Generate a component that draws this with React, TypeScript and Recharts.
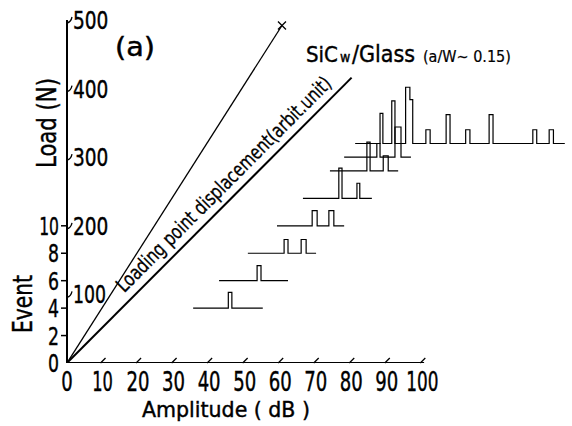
import { LineChart, Line, XAxis, YAxis } from "recharts";

const FONT = '"DejaVu Sans Condensed", "DejaVu Sans", sans-serif';

// axes: amplitude in dB, events on the left, load on the same scale (500 N ~ 25 events)
const ampTicks = [0, 10, 20, 30, 40, 50, 60, 70, 80, 90, 100];
const eventTicks = [0, 2, 4, 6, 8, 10];
const loadTicks = [100, 200, 300, 400, 500];
const loadPerEvent = 20;

// load vs. displacement lines, drawn in plot units (dB, event)
const loadLine = [
  { x: 0, y: 0 },
  { x: 60.5, y: 24.6 },
];
const displacementLine = [
  { x: 0, y: 0 },
  { x: 80.1, y: 20.8 },
];
const ampAxisLine = [
  { x: 0, y: 0 },
  { x: 100.5, y: 0 },
];

// event traces: baseline, start, end, pulses [from, to, top, (shoulder to, shoulder top)]
const traceBase = [4, 6, 8, 10, 12, 14, 15, 16];
const traceStart = [35.5, 42.8, 50.9, 59.1, 66.4, 74.0, 78.0, 81.1];
const traceEnd = [55.1, 62.2, 70.1, 78.0, 85.8, 93.2, 96.8, 140.1];
const tracePulses: number[][][] = [
  [[45.4, 46.4, 5.15]],
  [[53.5, 54.6, 7.1]],
  [
    [61.1, 62.2, 9.0],
    [65.9, 67.3, 9.0],
  ],
  [
    [69.0, 70.4, 11.1],
    [73.7, 75.1, 11.1],
  ],
  [
    [76.5, 77.4, 14.2],
    [81.6, 82.4, 13.1],
  ],
  [
    [84.4, 85.3, 16.1],
    [89.0, 90.4, 15.1],
  ],
  [
    [87.2, 88.1, 16.0],
    [92.3, 94.0, 17.2],
  ],
  [
    [88.1, 88.9, 18.2],
    [91.4, 92.3, 19.1],
    [95.3, 96.5, 20.1, 97.3, 19.2],
    [101.0, 102.2, 17.0],
    [106.7, 107.8, 18.1],
    [112.2, 113.4, 17.0],
    [118.8, 119.9, 18.1],
    [131.1, 132.2, 17.0],
    [135.7, 136.9, 17.0],
  ],
];

function traceData(i: number) {
  const base = traceBase[i];
  const pts = [{ x: traceStart[i], y: base }];
  for (const [a, b, top, c, top2] of tracePulses[i]) {
    pts.push({ x: a, y: base }, { x: a, y: top }, { x: b, y: top });
    if (c !== undefined) {
      pts.push({ x: b, y: top2 }, { x: c, y: top2 }, { x: c, y: base });
    } else {
      pts.push({ x: b, y: base });
    }
  }
  pts.push({ x: traceEnd[i], y: base });
  return pts;
}

const leftTicks = Array.from(
  new Set([...eventTicks, ...loadTicks.map((l) => l / loadPerEvent)])
).sort((a, b) => a - b);

// the lettering is tall and narrow, so squeeze digits to a set width
function numWidth(s: string, w: number) {
  return s.split("").reduce((sum, ch) => sum + (ch === "1" ? w * 0.8 : w), 0);
}

// pen lettering is a bit heavier than the font
const ink = { fill: "#000", stroke: "#000", strokeWidth: 0.4 };

function AmpTick({ x, y, payload }: any) {
  const v = payload.value;
  const s = String(v);
  return (
    <g>
      {v > 0 && (
        <line x1={x - 2} y1={y} x2={x + 3} y2={y - 5} stroke="#000" strokeWidth={1.3} />
      )}
      <text
        x={x}
        y={y + 28}
        textAnchor="middle"
        fontSize={26}
        fontFamily={FONT}
        {...ink}
        textLength={numWidth(s, 11.5)}
        lengthAdjust="spacingAndGlyphs"
      >
        {s}
      </text>
    </g>
  );
}

function LeftTick({ x, y, payload }: any) {
  const v = payload.value;
  const load = v * loadPerEvent;
  const showEvent = eventTicks.includes(v);
  const showLoad = loadTicks.includes(load);
  return (
    <g>
      {showEvent && v > 0 && (
        <line x1={x - 6} y1={y} x2={x} y2={y} stroke="#000" strokeWidth={1.5} />
      )}
      {showEvent && (
        <text
          x={x - 8}
          y={y}
          dy="0.36em"
          textAnchor="end"
          fontSize={25}
          fontFamily={FONT}
          {...ink}
          textLength={numWidth(String(v), 11)}
          lengthAdjust="spacingAndGlyphs"
        >
          {v}
        </text>
      )}
      {showLoad && (
        <path d={`M${x} ${y + 3} q4 -1 5 -6`} fill="none" stroke="#000" strokeWidth={1.3} />
      )}
      {showLoad && (
        <text
          x={x + 6}
          y={y}
          dy="0.36em"
          textAnchor="start"
          fontSize={25}
          fontFamily={FONT}
          {...ink}
          textLength={numWidth(String(load), 11.8)}
          lengthAdjust="spacingAndGlyphs"
        >
          {load}
        </text>
      )}
    </g>
  );
}

function EndCross(props: any) {
  const { cx, cy, index } = props;
  if (index !== loadLine.length - 1) return <g key={`d${index}`} />;
  return (
    <path
      key={`d${index}`}
      d={`M${cx - 4} ${cy - 4} L${cx + 4} ${cy + 4} M${cx - 4} ${cy + 4} L${cx + 4} ${cy - 4}`}
      stroke="#000"
      strokeWidth={1.3}
    />
  );
}

export default function App() {
  return (
    <div
      style={{
        position: "absolute",
        left: 0,
        top: 0,
        width: 572,
        height: 426,
        background: "#fff",
        fontFamily: FONT,
      }}
    >
      <LineChart width={572} height={426} margin={{ top: 20, right: 4, bottom: 0, left: 0 }}>
        <XAxis
          type="number"
          dataKey="x"
          domain={[0, 141]}
          ticks={ampTicks}
          interval={0}
          allowDataOverflow
          height={63}
          axisLine={false}
          tickLine={false}
          tickSize={0}
          tickMargin={0}
          tick={<AmpTick />}
        />
        <YAxis
          type="number"
          domain={[0, 25]}
          ticks={leftTicks}
          interval={0}
          allowDataOverflow
          width={67}
          axisLine={{ stroke: "#000", strokeWidth: 2 }}
          tickLine={false}
          tickSize={0}
          tickMargin={0}
          tick={<LeftTick />}
        />
        <Line
          data={ampAxisLine}
          dataKey="y"
          stroke="#000"
          strokeWidth={2}
          dot={false}
          isAnimationActive={false}
        />
        <Line
          data={loadLine}
          dataKey="y"
          stroke="#000"
          strokeWidth={1.3}
          dot={EndCross}
          isAnimationActive={false}
        />
        <Line
          data={displacementLine}
          dataKey="y"
          stroke="#000"
          strokeWidth={2}
          dot={false}
          isAnimationActive={false}
        />
        {traceBase.map((b, i) => (
          <Line
            key={`trace${b}`}
            data={traceData(i)}
            dataKey="y"
            type="linear"
            stroke="#000"
            strokeWidth={1.2}
            dot={false}
            isAnimationActive={false}
          />
        ))}
      </LineChart>
      <svg
        width={572}
        height={426}
        style={{ position: "absolute", left: 0, top: 0, pointerEvents: "none" }}
        fontFamily={FONT}
        {...ink}
      >
        <text x={135} y={56} textAnchor="middle" fontSize={26} textLength={40} lengthAdjust="spacingAndGlyphs">
          (a)
        </text>
        <text x={306} y={62} fontSize={22}>
          SiC
        </text>
        <text x={340} y={62} fontSize={14}>
          w
        </text>
        <text x={352} y={62} fontSize={23}>
          /Glass
        </text>
        <text x={423} y={62} fontSize={16} strokeWidth={0.2}>
          (a/W~ 0.15)
        </text>
        <text
          transform="translate(32,304) rotate(-90)"
          textAnchor="middle"
          fontSize={26}
          textLength={58}
          lengthAdjust="spacingAndGlyphs"
        >
          Event
        </text>
        <text
          transform="translate(56,123) rotate(-90)"
          textAnchor="middle"
          fontSize={26}
          textLength={90}
          lengthAdjust="spacingAndGlyphs"
        >
          Load (N)
        </text>
        <text x={226} y={417} textAnchor="middle" fontSize={22} textLength={168} lengthAdjust="spacingAndGlyphs">
          Amplitude ( dB )
        </text>
        <text
          transform="translate(228.5,189) rotate(-45)"
          textAnchor="middle"
          fontSize={20}
          strokeWidth={0.3}
          textLength={295}
          lengthAdjust="spacingAndGlyphs"
        >
          Loading point displacement(arbit.unit)
        </text>
      </svg>
    </div>
  );
}
